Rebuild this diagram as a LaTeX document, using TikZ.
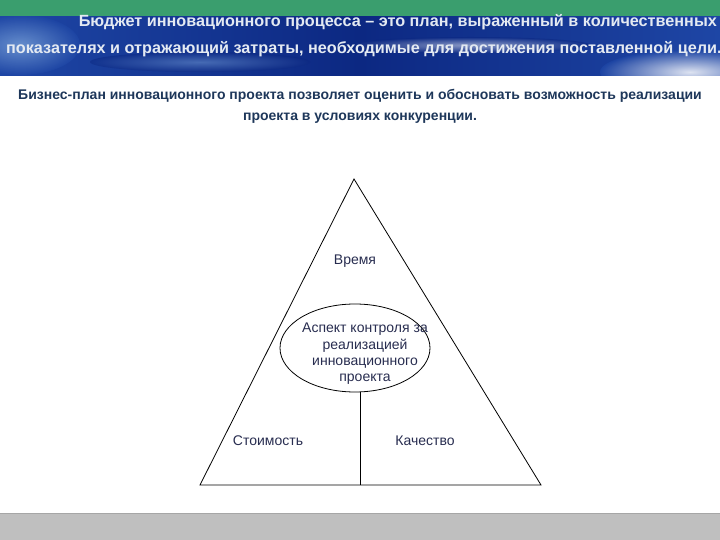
\documentclass[tikz,border=0pt]{standalone}
\usepackage{fontspec}
\setmainfont{Liberation Sans}
\usetikzlibrary{shapes.geometric}
\definecolor{topgreen}{RGB}{58,158,110}
\definecolor{bannerdark}{RGB}{12,40,130}
\definecolor{bannermid}{RGB}{30,70,165}
\definecolor{bannerlight}{RGB}{120,160,215}
\definecolor{headtext}{RGB}{228,234,242}
\definecolor{subtext}{RGB}{30,55,90}
\definecolor{labtext}{RGB}{40,45,80}
\definecolor{footgray}{RGB}{191,191,191}
\tikzset{
  headline/.style={font=\fontsize{16.2}{19}\selectfont\bfseries, text=headtext, inner sep=0},
  subline/.style={font=\fontsize{14}{16}\selectfont\bfseries, text=subtext, inner sep=0},
  lab/.style={font=\fontsize{14}{16}\selectfont, text=labtext, inner sep=0},
  edge/.style={draw=black, line width=0.8pt},
}
\begin{document}
\begin{tikzpicture}[x=1pt,y=-1pt]
\useasboundingbox (0,0) rectangle (720,540);
% background bands
\fill[white] (0,0) rectangle (720,540);
\fill[topgreen] (0,0) rectangle (720,17);
\shade[left color=bannermid, right color=bannerdark] (0,17) rectangle (360,76);
\shade[left color=bannerdark, right color=bannermid] (360,17) rectangle (720,76);
\begin{scope}
\clip (0,17) rectangle (720,76);
\shade[inner color=bannerlight, outer color=bannermid, opacity=0.8] (20,45) ellipse (60 and 30);
\shade[inner color=white, outer color=bannermid, opacity=0.85] (690,72) ellipse (90 and 22);
\shade[inner color=white, outer color=bannerdark, opacity=0.5] (470,45) ellipse (120 and 8);
\shade[inner color=bannerlight, outer color=bannerdark, opacity=0.5] (200,62) ellipse (110 and 10);
\end{scope}
\fill[footgray] (0,513) rectangle (720,540);
\draw[gray!70, line width=0.6pt] (0,513) -- (720,513);
% header texts
\node[headline, anchor=east] (h1) at (717,22) {Бюджет инновационного процесса – это план, выраженный в количественных};
\node[headline, anchor=west] (h2) at (6,49) {показателях и отражающий затраты, необходимые для достижения поставленной цели.};
\node[subline] (s1) at (360,96) {Бизнес-план инновационного проекта позволяет оценить и обосновать возможность реализации};
\node[subline] (s2) at (360,118) {проекта в условиях конкуренции.};
% triangle
\coordinate (A) at (354,179);
\coordinate (B) at (200,485);
\coordinate (C) at (541,485);
\draw[edge, line join=miter] (A) -- (C) -- (B) -- cycle;
\node[ellipse, edge, minimum width=150, minimum height=88, inner sep=0] (E) at (355,348) {};
\node[lab, align=center, font=\fontsize{14}{16.3}\selectfont] (et) at (365,354) {Аспект контроля за\\реализацией\\инновационного\\проекта};
\coordinate (L) at (360,485);
\draw[edge] (E.south -| L) -- (L);
\node[lab] (t) at (355,261) {Время};
\node[lab] (s) at (268,441) {Стоимость};
\node[lab] (q) at (425,441) {Качество};
\end{tikzpicture}
\end{document}
